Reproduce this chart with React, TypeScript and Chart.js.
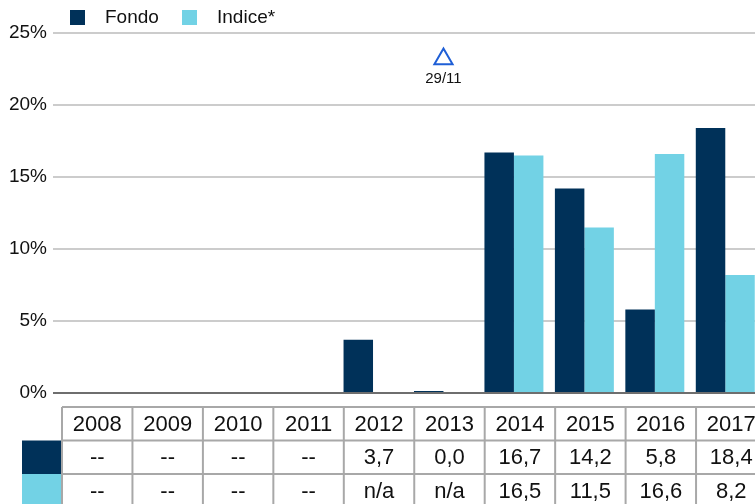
import React, { useEffect, useRef } from "react";
import { Chart, registerables } from "chart.js";

Chart.register(...registerables);

const years = ["2008", "2009", "2010", "2011", "2012", "2013", "2014", "2015", "2016", "2017"];
const fondoValues = [null, null, null, null, 3.7, 0.0, 16.7, 14.2, 5.8, 18.4];
const indiceValues = [null, null, null, null, null, null, 16.5, 11.5, 16.6, 8.2];
const fondoText = ["--", "--", "--", "--", "3,7", "0,0", "16,7", "14,2", "5,8", "18,4"];
const indiceText = ["--", "--", "--", "--", "n/a", "n/a", "16,5", "11,5", "16,6", "8,2"];
const seriesNames = ["Fondo", "Indice*"];
const yMin = 0;
const yMax = 25;
const yStep = 5;
const markerCategory = "2013";
const markerValue = 23.2;
const markerLabel = "29/11";

const NAVY = "#003159";
const CYAN = "#72d2e5";
const FONT = '"Liberation Sans", Arial, sans-serif';

const legendPlugin = {
  id: "customLegend",
  afterDraw(chart: any) {
    const ctx = chart.ctx;
    const items = [
      { x: 70, color: NAVY, text: seriesNames[0] },
      { x: 182, color: CYAN, text: seriesNames[1] },
    ];
    ctx.save();
    ctx.font = `19px ${FONT}`;
    ctx.textBaseline = "middle";
    ctx.textAlign = "left";
    items.forEach((it) => {
      ctx.fillStyle = it.color;
      ctx.fillRect(it.x, 10, 15, 15);
      ctx.fillStyle = "#111";
      ctx.fillText(it.text, it.x + 35, 18);
    });
    ctx.restore();
  },
};

const markerLabelPlugin = {
  id: "markerLabel",
  afterDatasetsDraw(chart: any) {
    const meta = chart.getDatasetMeta(2);
    const idx = years.indexOf(markerCategory);
    const el = meta.data[idx];
    if (!el) return;
    const ctx = chart.ctx;
    ctx.save();
    ctx.font = `15px ${FONT}`;
    ctx.fillStyle = "#111";
    ctx.textAlign = "center";
    ctx.textBaseline = "middle";
    ctx.fillText(markerLabel, el.x, el.y + 20);
    ctx.restore();
  },
};

const tablePlugin = {
  id: "dataTable",
  afterDraw(chart: any) {
    const xs = chart.scales.x;
    const ctx = chart.ctx;
    const base = chart.chartArea.bottom;
    const w = xs.getPixelForValue(1) - xs.getPixelForValue(0);
    const shift = 6;
    const rowH = 33.5;
    const top = base + 14;
    const rows = [years, fondoText, indiceText];
    ctx.save();
    ctx.fillStyle = NAVY;
    ctx.fillRect(22, top + rowH, 40, rowH);
    ctx.fillStyle = CYAN;
    ctx.fillRect(22, top + 2 * rowH, 40, rowH + 2);
    ctx.strokeStyle = "#a8a8a8";
    ctx.lineWidth = 2;
    const left = xs.getPixelForValue(0) - w / 2 + shift;
    const right = xs.getPixelForValue(years.length - 1) + w / 2 + shift;
    for (let r = 0; r < 3; r++) {
      const y = top + r * rowH;
      ctx.beginPath();
      ctx.moveTo(left, y);
      ctx.lineTo(right, y);
      ctx.stroke();
    }
    for (let i = 0; i <= years.length; i++) {
      const x = left + i * w;
      ctx.beginPath();
      ctx.moveTo(x, top);
      ctx.lineTo(x, top + 3 * rowH + 4);
      ctx.stroke();
    }
    ctx.font = `22px ${FONT}`;
    ctx.fillStyle = "#111";
    ctx.textAlign = "center";
    ctx.textBaseline = "middle";
    rows.forEach((row, r) => {
      row.forEach((t, i) => {
        const cx = xs.getPixelForValue(i) + shift;
        ctx.fillText(t, cx, top + r * rowH + rowH / 2 + 1);
      });
    });
    ctx.restore();
  },
};

export default function App() {
  const ref = useRef<HTMLCanvasElement>(null);
  useEffect(() => {
    if (!ref.current) return;
    const chart = new Chart(ref.current, {
      type: "bar",
      data: {
        labels: years,
        datasets: [
          {
            label: seriesNames[0],
            data: fondoValues,
            backgroundColor: NAVY,
            borderWidth: 0,
            minBarLength: 2,
            categoryPercentage: 0.837,
            barPercentage: 1.0,
          },
          {
            label: seriesNames[1],
            data: indiceValues,
            backgroundColor: CYAN,
            borderWidth: 0,
            categoryPercentage: 0.837,
            barPercentage: 1.0,
          },
          {
            type: "line",
            label: "marker",
            data: years.map((y) => (y === markerCategory ? markerValue : null)),
            showLine: false,
            pointStyle: "triangle",
            pointRadius: 10.5,
            pointBorderWidth: 2,
            borderColor: "#1f5fd6",
            backgroundColor: "rgba(0,0,0,0)",
            pointBackgroundColor: "rgba(0,0,0,0)",
            pointBorderColor: "#1f5fd6",
          } as any,
        ],
      },
      options: {
        responsive: false,
        animation: false,
        devicePixelRatio: 1,
        layout: { padding: { top: 33, left: 0, right: 0, bottom: 0 } },
        plugins: {
          legend: { display: false },
          tooltip: { enabled: false },
        },
        scales: {
          x: {
            type: "category",
            offset: true,
            grid: { display: false },
            border: { display: false },
            ticks: { display: false },
            afterFit(scale: any) {
              scale.height = 111;
            },
          },
          y: {
            min: yMin,
            max: yMax,
            border: { display: false },
            ticks: {
              stepSize: yStep,
              padding: 6,
              color: "#111",
              font: { family: FONT, size: 19 },
              callback: (v: any) => `${v}%`,
            },
            grid: {
              color: (c: any) => (c.tick && c.tick.value === 0 ? "#6e6e6e" : "#cccccc"),
              tickColor: (c: any) => (c.tick && c.tick.value === 0 ? "#6e6e6e" : "#cccccc"),
              lineWidth: 2,
              tickLength: 3,
              drawTicks: true,
            },
            afterFit(scale: any) {
              scale.width = 56;
            },
          },
        },
      } as any,
      plugins: [legendPlugin, markerLabelPlugin, tablePlugin],
    });
    return () => chart.destroy();
  }, []);

  return (
    <div
      style={{
        position: "fixed",
        left: 0,
        top: 0,
        width: 755,
        height: 504,
        overflow: "hidden",
        background: "#fff",
      }}
    >
      <canvas ref={ref} width={773} height={504} style={{ display: "block", width: 773, height: 504 }} />
    </div>
  );
}
